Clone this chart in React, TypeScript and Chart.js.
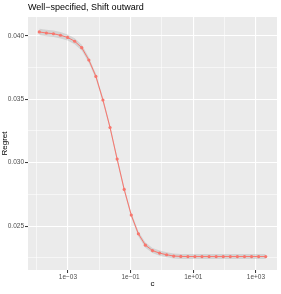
import React, { useEffect, useRef } from "react";
import { Chart, registerables } from "chart.js";

Chart.register(...registerables);

const titleText = "Well\u2212specified, Shift outward";
const xTitle = "c";
const yTitle = "Regret";

const cValues = [
  0.000122, 0.000205, 0.000345, 0.00058, 0.000977, 0.00164, 0.00276, 0.00465,
  0.00781, 0.0131, 0.0221, 0.0372, 0.0625, 0.105, 0.177, 0.297, 0.5, 0.841,
  1.41, 2.38, 4, 6.73, 11.3, 19, 32, 53.8, 90.5, 152, 256, 431, 724, 1218, 2048,
];

const regret = [
  0.0403, 0.04022, 0.04016, 0.04004, 0.03987, 0.03957, 0.03906, 0.03809,
  0.0368, 0.03494, 0.03277, 0.03028, 0.02789, 0.02587, 0.02439, 0.0235,
  0.02307, 0.02287, 0.02274, 0.02264, 0.02261, 0.0226, 0.0226, 0.0226, 0.0226,
  0.0226, 0.0226, 0.0226, 0.0226, 0.0226, 0.0226, 0.0226, 0.0226,
];

const seHalf = [
  0.00026, 0.00026, 0.00025, 0.00025, 0.00024, 0.00024, 0.00023, 0.00022,
  0.00021, 0.0002, 0.0002, 0.0002, 0.0002, 0.0002, 0.0002, 0.0002, 0.0002,
  0.0002, 0.0002, 0.0002, 0.0002, 0.0002, 0.0002, 0.0002, 0.0002, 0.0002,
  0.0002, 0.0002, 0.0002, 0.0002, 0.0002, 0.0002, 0.0002,
];

const xTickValues = [1e-4, 1e-3, 1e-2, 1e-1, 1, 10, 100, 1000];
const xTickLabels = ["", "1e\u221203", "", "1e\u221201", "", "1e+01", "", "1e+03"];

const yTickValues = [0.0225, 0.025, 0.0275, 0.03, 0.0325, 0.035, 0.0375, 0.04];
const yTickLabels = ["", "0.025", "", "0.030", "", "0.035", "", "0.040"];

const X_MIN = 5.32e-5;
const X_MAX = 4700;
const Y_MIN = 0.02154;
const Y_MAX = 0.04148;

const RED = "#F8766D";
const FONT = "'Liberation Sans', Arial, sans-serif";

export default function App() {
  const ref = useRef<HTMLCanvasElement | null>(null);

  useEffect(() => {
    if (!ref.current) return;
    const upper = cValues.map((c, i) => ({ x: c, y: regret[i] + seHalf[i] }));
    const lower = cValues.map((c, i) => ({ x: c, y: regret[i] - seHalf[i] }));
    const main = cValues.map((c, i) => ({ x: c, y: regret[i] }));

    const bgPlugin = {
      id: "panelBg",
      beforeDraw(chart: any) {
        const { ctx, chartArea } = chart;
        ctx.save();
        ctx.fillStyle = "#ffffff";
        ctx.fillRect(0, 0, chart.width, chart.height);
        ctx.fillStyle = "#ebebeb";
        ctx.fillRect(
          chartArea.left,
          chartArea.top,
          chartArea.right - chartArea.left,
          chartArea.bottom - chartArea.top
        );
        ctx.fillStyle = "#000000";
        ctx.font = `9px ${FONT}`;
        ctx.textBaseline = "middle";
        ctx.textAlign = "left";
        ctx.fillText(titleText, chartArea.left, 8);
        ctx.restore();
      },
    };

    const isMajorX = (v: number) => {
      const i = xTickValues.findIndex((t) => Math.abs(t - v) / t < 1e-6);
      return i >= 0 && xTickLabels[i] !== "";
    };
    const isMajorY = (v: number) => {
      const i = yTickValues.findIndex((t) => Math.abs(t - v) < 1e-9);
      return i >= 0 && yTickLabels[i] !== "";
    };

    const chart = new Chart(ref.current, {
      type: "line",
      data: {
        datasets: [
          {
            data: upper,
            borderWidth: 0,
            pointRadius: 0,
            borderColor: "rgba(0,0,0,0)",
            backgroundColor: "rgba(153,153,153,0.3)",
            fill: "+1",
            order: 3,
          },
          {
            data: lower,
            borderWidth: 0,
            pointRadius: 0,
            borderColor: "rgba(0,0,0,0)",
            fill: false,
            order: 3,
          },
          {
            data: main,
            borderColor: RED,
            backgroundColor: RED,
            borderWidth: 1,
            pointRadius: 1.6,
            pointBorderWidth: 0,
            pointBackgroundColor: RED,
            fill: false,
            order: 1,
          },
        ] as any,
      },
      options: {
        responsive: false,
        animation: false,
        devicePixelRatio: 1,
        layout: { padding: { top: 17, left: 0, right: 0, bottom: 0 } },
        plugins: {
          legend: { display: false },
          tooltip: { enabled: false },
          title: { display: false },
        },
        scales: {
          x: {
            type: "logarithmic",
            min: X_MIN,
            max: X_MAX,
            afterBuildTicks: (scale: any) => {
              scale.ticks = xTickValues.map((v) => ({ value: v }));
            },
            afterFit: (scale: any) => {
              scale.height = 24;
            },
            ticks: {
              autoSkip: false,
              maxRotation: 0,
              minRotation: 0,
              padding: 0.5,
              color: "#4d4d4d",
              font: { family: FONT, size: 6.5 },
              callback: (value: any) => {
                const i = xTickValues.findIndex(
                  (t) => Math.abs(t - Number(value)) / t < 1e-6
                );
                return i >= 0 ? xTickLabels[i] : "";
              },
            },
            grid: {
              color: "#ffffff",
              lineWidth: (ctx: any) => (isMajorX(ctx.tick?.value) ? 1.1 : 0.55),
              tickColor: (ctx: any) =>
                isMajorX(ctx.tick?.value) ? "#333333" : "rgba(0,0,0,0)",
              tickLength: 3,
              tickWidth: 1,
              drawTicks: true,
            },
            border: { display: false },
            title: {
              display: true,
              text: xTitle,
              color: "#000000",
              font: { family: FONT, size: 8 },
              padding: { top: 0, bottom: 5.5 },
            },
          },
          y: {
            type: "linear",
            min: Y_MIN,
            max: Y_MAX,
            afterBuildTicks: (scale: any) => {
              scale.ticks = yTickValues.map((v) => ({ value: v }));
            },
            afterFit: (scale: any) => {
              scale.width = 28;
            },
            ticks: {
              autoSkip: false,
              padding: 1,
              color: "#4d4d4d",
              font: { family: FONT, size: 6.5 },
              callback: (value: any) => {
                const i = yTickValues.findIndex(
                  (t) => Math.abs(t - Number(value)) < 1e-9
                );
                return i >= 0 ? yTickLabels[i] : "";
              },
            },
            grid: {
              color: "#ffffff",
              lineWidth: (ctx: any) => (isMajorY(ctx.tick?.value) ? 1.1 : 0.55),
              tickColor: (ctx: any) =>
                isMajorY(ctx.tick?.value) ? "#333333" : "rgba(0,0,0,0)",
              tickLength: 3,
              tickWidth: 1,
              drawTicks: true,
            },
            border: { display: false },
            title: {
              display: true,
              text: yTitle,
              color: "#000000",
              font: { family: FONT, size: 8 },
              padding: { top: 0, bottom: 0 },
            },
          },
        },
      } as any,
      plugins: [bgPlugin],
    });
    return () => chart.destroy();
  }, []);

  return (
    <div style={{ position: "fixed", left: 0, top: 0, width: 281, height: 294, background: "#fff" }}>
      <canvas ref={ref} width={281} height={294} style={{ display: "block", width: 281, height: 294 }} />
    </div>
  );
}
